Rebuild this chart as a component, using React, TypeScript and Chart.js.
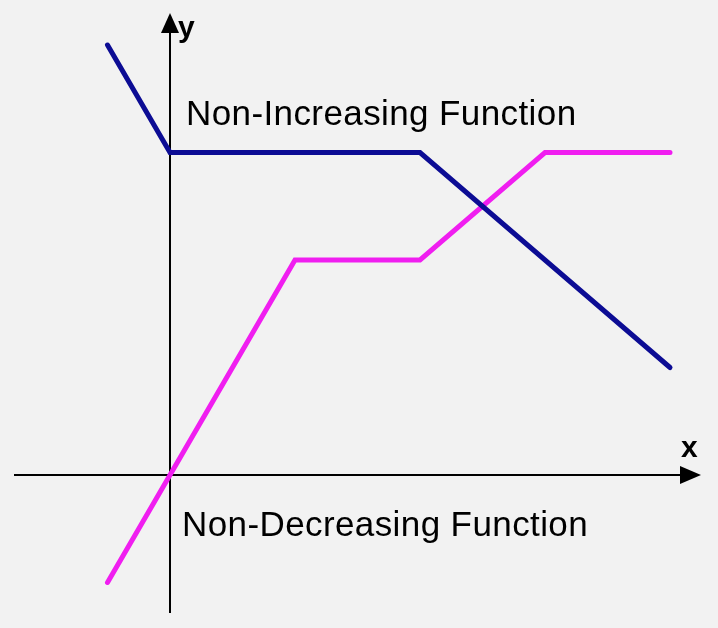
import React, { useEffect, useRef } from "react";
import { Chart, registerables } from "chart.js";

Chart.register(...registerables);

// Data (in abstract axis units; origin at the axes' crossing)
const nonIncreasingX = [-0.5, 0, 2, 4];
const nonIncreasingY = [4, 3, 3, 1];
const nonDecreasingX = [-0.5, 0, 1, 2, 3, 4];
const nonDecreasingY = [-1, 0, 2, 2, 3, 3];
const seriesLabels = ["Non-Increasing Function", "Non-Decreasing Function"];
const axisLabels = ["x", "y"];

const X_MIN = -1.36;
const X_MAX = 4.384;
const Y_MIN = -1.4233;
const Y_MAX = 4.4186;

const toPoints = (xs: number[], ys: number[]) => xs.map((x, i) => ({ x, y: ys[i] }));

const axesPlugin = {
  id: "customAxes",
  beforeDatasetsDraw(chart: any) {
    const { ctx, scales } = chart;
    const xs = scales.x;
    const ys = scales.y;
    const x0 = xs.getPixelForValue(0);
    const y0 = ys.getPixelForValue(0);
    const xLeft = xs.getPixelForValue(-1.248);
    const xTip = xs.getPixelForValue(4.248);
    const yBottom = ys.getPixelForValue(-1.284);
    const yTip = ys.getPixelForValue(4.298);
    ctx.save();
    ctx.strokeStyle = "#000";
    ctx.fillStyle = "#000";
    ctx.lineWidth = 2;
    // x axis
    ctx.beginPath();
    ctx.moveTo(xLeft, y0);
    ctx.lineTo(xTip - 18, y0);
    ctx.stroke();
    ctx.beginPath();
    ctx.moveTo(xTip, y0);
    ctx.lineTo(xTip - 21, y0 - 9);
    ctx.lineTo(xTip - 21, y0 + 9);
    ctx.closePath();
    ctx.fill();
    // y axis
    ctx.beginPath();
    ctx.moveTo(x0, yBottom);
    ctx.lineTo(x0, yTip + 18);
    ctx.stroke();
    ctx.beginPath();
    ctx.moveTo(x0, yTip);
    ctx.lineTo(x0 - 9, yTip + 20);
    ctx.lineTo(x0 + 9, yTip + 20);
    ctx.closePath();
    ctx.fill();
    // axis letters
    ctx.font = "bold 30px 'Liberation Sans', Arial, sans-serif";
    ctx.textBaseline = "alphabetic";
    ctx.textAlign = "left";
    ctx.fillText(axisLabels[0], xTip - 20, y0 - 18);
    ctx.fillText(axisLabels[1], x0 + 8, yTip + 24);
    // function labels
    ctx.font = "35px 'Liberation Sans', Arial, sans-serif";
    try {
      (ctx as any).letterSpacing = "0.4px";
    } catch (e) {
      /* ignore */
    }
    ctx.fillText(seriesLabels[0], x0 + 16, ys.getPixelForValue(3.256));
    ctx.fillText(seriesLabels[1], x0 + 12, ys.getPixelForValue(-0.567));
    ctx.restore();
  },
};

export default function App() {
  const ref = useRef<HTMLCanvasElement | null>(null);
  useEffect(() => {
    if (!ref.current) return;
    const chart = new Chart(ref.current, {
      type: "scatter",
      data: {
        datasets: [
          {
            label: seriesLabels[0],
            data: toPoints(nonIncreasingX, nonIncreasingY),
            showLine: true,
            borderColor: "#0c0c94",
            borderWidth: 5,
            pointRadius: 0,
            tension: 0,
            borderCapStyle: "round",
          },
          {
            label: seriesLabels[1],
            data: toPoints(nonDecreasingX, nonDecreasingY),
            showLine: true,
            borderColor: "#f01ef0",
            borderWidth: 5,
            pointRadius: 0,
            tension: 0,
            borderCapStyle: "round",
          },
        ],
      },
      options: {
        responsive: false,
        animation: false,
        devicePixelRatio: 1,
        layout: { padding: 0 },
        plugins: { legend: { display: false }, tooltip: { enabled: false } },
        scales: {
          x: { type: "linear", min: X_MIN, max: X_MAX, display: false },
          y: { type: "linear", min: Y_MIN, max: Y_MAX, display: false },
        },
      },
      plugins: [axesPlugin],
    } as any);
    return () => chart.destroy();
  }, []);
  return (
    <div
      style={{
        position: "fixed",
        left: 0,
        top: 0,
        width: 718,
        height: 628,
        background: "#f2f2f2",
      }}
    >
      <canvas ref={ref} width={718} height={628} style={{ display: "block" }} />
    </div>
  );
}
